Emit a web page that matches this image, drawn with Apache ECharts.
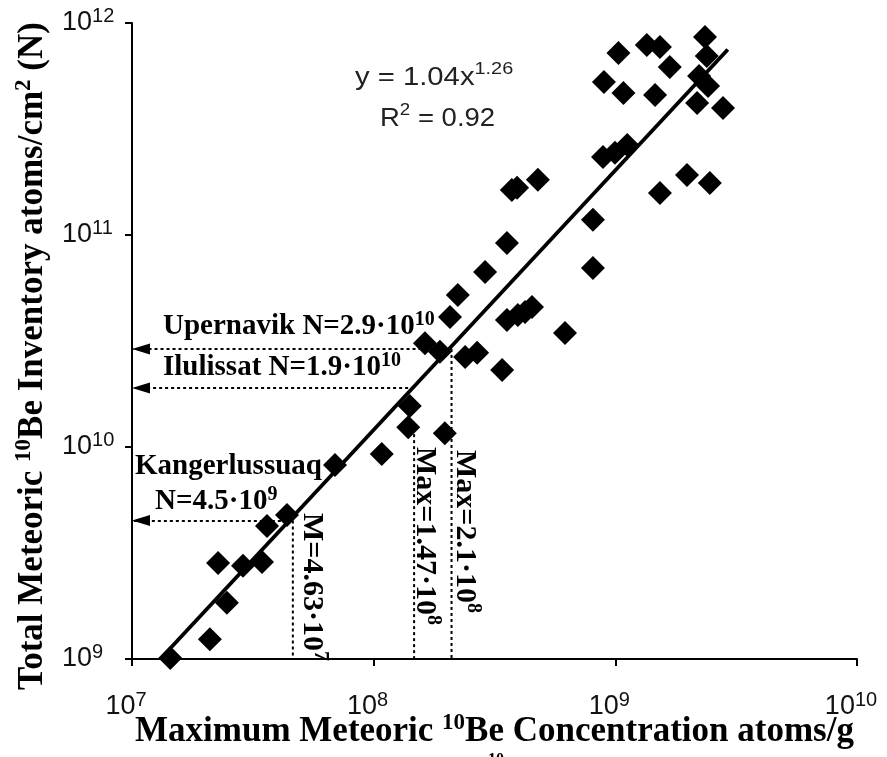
<!DOCTYPE html>
<html><head><meta charset="utf-8">
<script src="https://cdn.jsdelivr.net/npm/echarts/dist/echarts.min.js"></script>
<style>html,body{margin:0;padding:0;background:#fff}#c{width:887px;height:757px}</style>
</head><body><div id="c"></div>
<script>
// Maximum meteoric 10Be concentration (atoms/g)
const concentration = [
  1.44e7, 2.10e7, 2.47e7, 2.27e7, 2.88e7, 3.45e7, 3.62e7, 4.38e7, 6.92e7, 1.08e8,
  1.41e8, 1.39e8, 1.97e8, 1.63e8, 1.88e8, 2.39e8, 2.68e8, 3.40e8, 2.07e8, 2.23e8,
  2.89e8, 3.56e8, 3.73e8, 3.92e8, 4.78e8, 3.56e8, 3.95e8, 4.23e8, 4.52e8, 6.19e8,
  8.08e8, 8.08e8, 8.89e8, 9.96e8, 1.12e9, 1.53e9, 1.98e9, 2.46e9, 1.03e9, 8.97e8,
  1.08e9, 1.35e9, 1.53e9, 1.68e9, 1.46e9, 2.35e9, 2.39e9, 2.22e9, 2.42e9, 2.18e9,
  2.79e9
];
// Total meteoric 10Be inventory (atoms/cm2)
const inventory = [
  1.01e9, 1.24e9, 1.84e9, 2.84e9, 2.75e9, 2.87e9, 4.24e9, 4.78e9, 8.22e9, 9.27e9,
  1.56e10, 1.24e10, 1.16e10, 3.09e10, 2.81e10, 2.66e10, 2.78e10, 2.31e10, 4.10e10, 5.21e10,
  6.69e10, 9.17e10, 1.63e11, 1.67e11, 1.82e11, 3.97e10, 4.19e10, 4.33e10, 4.57e10, 3.45e10,
  1.18e11, 6.99e10, 2.33e11, 2.44e11, 2.66e11, 1.58e11, 1.92e11, 1.76e11, 7.22e11, 5.27e11,
  4.67e11, 7.87e11, 7.71e11, 6.20e11, 4.57e11, 8.59e11, 6.99e11, 5.62e11, 5.04e11, 4.19e11,
  3.97e11
];
// Power-law fit line end points
const trendX = [1.31e7, 2.92e9];
const trendY = [1.0e9, 7.5e11];
// Site annotations
const siteNames = ['Upernavik', 'Ilulissat', 'Kangerlussuaq'];
const siteN = [2.9e10, 1.9e10, 4.5e9];
const siteMax = [2.1e8, 1.47e8, 4.63e7];
const dropTop = [2.9e10, 1.15e10, 4.5e9];
// Tick label exponents
const xTickExp = [7, 8, 9, 10];
const yTickExp = [9, 10, 11, 12];

const serif = '"Liberation Serif","Times New Roman",serif';
const sans = '"Liberation Sans",Arial,sans-serif';
const xMin = 1e7, xMax = 1e10, yMin = 1e9, yMax = 1e12;

const chart = echarts.init(document.getElementById('c'), null, {renderer: 'canvas'});

const tickRich = {
  b: {fontFamily: sans, fontSize: 27, lineHeight: 33, color: '#111'},
  s: {fontFamily: sans, fontSize: 20, lineHeight: 20, verticalAlign: 'top', color: '#111'}
};
function tickFmt(exps) {
  return function (v) {
    const e = Math.round(Math.log10(v));
    const i = exps.indexOf(e);
    return i < 0 ? '' : '{b|10}{s|' + exps[i] + '}';
  };
}
const titleRich = {
  b: {fontFamily: serif, fontWeight: 'bold', fontSize: 35, lineHeight: 40, color: '#000'},
  s: {fontFamily: serif, fontWeight: 'bold', fontSize: 23, lineHeight: 23, verticalAlign: 'top', color: '#000'}
};

const points = concentration.map((x, i) => [x, inventory[i]]);

const horiz = siteN.map((n, i) => [
  {coord: [siteMax[i], n], symbol: 'none'},
  {coord: [xMin, n], symbol: 'triangle', symbolSize: [11, 18], symbolOffset: [0, 9]}
]);

const dotted = {color: '#000', width: 2, type: [3, 3]};

const series = [
  {
    type: 'scatter', data: points, symbol: 'diamond', symbolSize: 24, z: 5,
    itemStyle: {color: '#000', opacity: 1}, silent: true
  },
  {
    type: 'line', data: trendX.map((x, i) => [x, trendY[i]]), z: 4, showSymbol: false, symbol: 'none',
    lineStyle: {color: '#000', width: 3.8}, silent: true,
    markLine: {
      silent: true,
      label: {show: false}, animation: false,
      lineStyle: dotted,
      data: horiz
    }
  }
];
siteMax.forEach((x, i) => {
  series.push({
    type: 'line', data: [[x, dropTop[i]], [x, yMin]], z: 2, symbol: 'none', silent: true,
    lineStyle: dotted
  });
});

function rtext(x, y, text, F, L, S, extra) {
  return Object.assign({
    type: 'text', x: x, y: y, z: 100, silent: true,
    style: {
      text: text, fill: '#000', align: 'left', verticalAlign: 'top',
      textAlign: 'left', textVerticalAlign: 'top',
      rich: {
        b: {fontFamily: serif, fontWeight: 'bold', fontSize: F, lineHeight: L, fill: '#000'},
        s: {fontFamily: serif, fontWeight: 'bold', fontSize: S, lineHeight: S, verticalAlign: 'top', fill: '#000'}
      }
    }
  }, extra || {});
}
function stext(x, y, text, F, L, S, sx) {
  return {
    type: 'text', x: x, y: y, z: 100, silent: true, scaleX: sx,
    style: {
      text: text, fill: '#222', align: 'left', verticalAlign: 'top',
      textAlign: 'left', textVerticalAlign: 'top',
      rich: {
        b: {fontFamily: sans, fontSize: F, lineHeight: L, fill: '#222'},
        s: {fontFamily: sans, fontSize: S, lineHeight: S, verticalAlign: 'top', fill: '#222'}
      }
    }
  };
}
const rot = {rotation: -Math.PI / 2};

const graphic = [
  stext(355, 61, '{b|y = 1.04x}{s|1.26}', 25, 35, 17, 1.17),
  stext(380, 102, '{b|R}{s|2}{b| = 0.92}', 25, 35, 17, 1.1),
  rtext(163, 309.5, '{b|' + siteNames[0] + ' N=2.9·10}{s|10}', 29, 35, 20),
  rtext(163, 350.5, '{b|' + siteNames[1] + ' N=1.9·10}{s|10}', 29, 35, 20),
  rtext(135, 449.5, '{b|' + siteNames[2] + '}', 29, 35, 20),
  rtext(155, 484.5, '{b|N=4.5·10}{s|9}', 29, 35, 20),
  rtext(330, 513, '{b|M=4.63·10}{s|7}', 30, 36, 20, rot),
  rtext(443, 447, '{b|Max=1.47·10}{s|8}', 30, 36, 20, rot),
  rtext(483, 450, '{b|Max=2.1·10}{s|8}', 30, 36, 20, rot),
  rtext(488, 751, '{b|10}', 16, 18, 12)
];

chart.setOption({
  animation: false,
  backgroundColor: '#fff',
  grid: {left: 132, top: 23, width: 725, height: 636, containLabel: false, outerBoundsMode: 'none'},
  xAxis: {
    type: 'log', logBase: 10, min: xMin, max: xMax,
    name: '{b|Maximum Meteoric }{s|10}{b|Be Concentration atoms/g}',
    nameLocation: 'middle', nameGap: 53, nameMoveOverlap: false,
    nameTextStyle: {rich: titleRich},
    axisLine: {show: true, lineStyle: {color: '#000', width: 2}},
    axisTick: {show: true, length: 7, lineStyle: {color: '#000', width: 2}},
    minorTick: {show: false},
    splitLine: {show: false},
    axisLabel: {margin: 31, padding: [0, 12, 0, 0], formatter: tickFmt(xTickExp), rich: tickRich}
  },
  yAxis: {
    type: 'log', logBase: 10, min: yMin, max: yMax,
    name: '{b|Total Meteoric }{s|10}{b|Be Inventory atoms/cm}{s|2}{b| (N)}',
    nameLocation: 'middle', nameGap: 79, nameRotate: 90, nameMoveOverlap: false,
    nameTextStyle: {rich: titleRich, padding: [0, 30, 0, 0]},
    axisLine: {show: true, lineStyle: {color: '#000', width: 2}},
    axisTick: {show: true, length: 7, lineStyle: {color: '#000', width: 2}},
    minorTick: {show: false},
    splitLine: {show: false},
    axisLabel: {margin: 70, align: 'left', formatter: tickFmt(yTickExp), rich: tickRich}
  },
  series: series,
  graphic: graphic
});
</script>
</body></html>
